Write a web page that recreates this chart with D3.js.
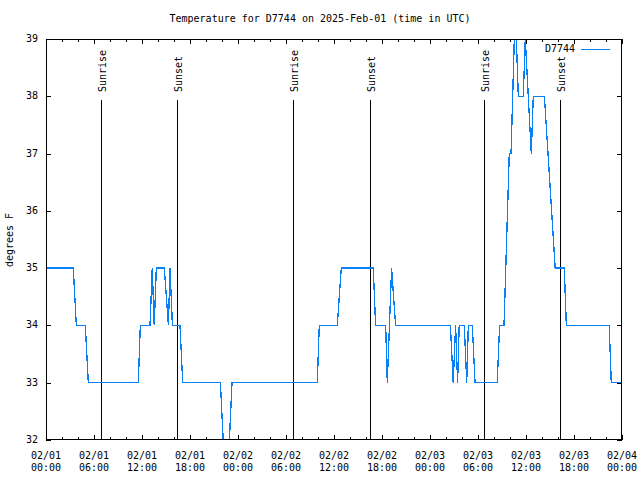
<!DOCTYPE html>
<html><head><meta charset="utf-8">
<script src="https://cdn.jsdelivr.net/npm/d3@7"></script>
<style>body{margin:0;background:#fff}svg{display:block}text{font-family:"DejaVu Sans Mono",monospace;font-size:10px;fill:#000}</style>
</head><body><svg id="c" width="640" height="480"></svg>
<script>
// hours since 2025-02-01 00:00 UTC
const hours = [0,3.41,3.79,4.91,5.29,11.54,11.79,13.0,13.28,13.53,13.79,14.79,15.3,15.5,15.8,16.75,17.09,21.8,22.5,22.6,23.25,33.91,34.16,36.41,36.91,40.91,41.2,42.46,42.66,43.2,43.7,50.55,50.9,51.2,51.45,51.65,52.29,52.59,52.79,53.29,53.63,56.4,56.7,57.25,57.91,58.13,58.54,58.79,59.04,59.66,59.91,60.66,60.91,62.3,63.65,64.79,65.04,70.4,70.66,72];
const temps = [35,35,34,34,33,33,34,34,35,34,35,35,34,35,34,34,33,33,31,31,33,33,34,34,35,35,34,34,33,35,34,34,33,34,33,34,34,33,34,34,33,33,34,34,37,37,39,39,38,38,39,37,38,38,35,35,34,34,33,33];
const sunEvents = ["Sunrise","Sunset","Sunrise","Sunset","Sunrise","Sunset"];
const sunHours = [6.9,16.41,30.9,40.46,54.8,64.3];
const xTickHours = [0,6,12,18,24,30,36,42,48,54,60,66,72];
const xTickDates = ["02/01","02/01","02/01","02/01","02/02","02/02","02/02","02/02","02/03","02/03","02/03","02/03","02/04"];
const xTickTimes = ["00:00","06:00","12:00","18:00","00:00","06:00","12:00","18:00","00:00","06:00","12:00","18:00","00:00"];
const yTicks = [32,33,34,35,36,37,38,39];
const seriesName = "D7744";
const title = "Temperature for D7744 on 2025-Feb-01 (time in UTC)";
const yLabel = "degrees F";

const L=46,R=622,T=39,B=440;
const svg=d3.select("#c");
const x=d3.scaleLinear().domain([0,72]).range([L,R]);
const y=d3.scaleLinear().domain([32,39]).range([B,T]);
const blue="#0a80f5";

svg.append("defs").append("clipPath").attr("id","clip").append("rect")
  .attr("x",L).attr("y",T).attr("width",R-L).attr("height",B-T);

// minor x ticks every 2 hours (bottom & top)
const minor=d3.range(0,73,2);
svg.append("g").selectAll("line").data(minor).join("line")
  .attr("x1",d=>x(d)+0.5).attr("x2",d=>x(d)+0.5)
  .attr("y1",B).attr("y2",d=>B-(d%6===0?5:3)).attr("stroke","#000");
svg.append("g").selectAll("line").data(minor).join("line")
  .attr("x1",d=>x(d)+0.5).attr("x2",d=>x(d)+0.5)
  .attr("y1",T).attr("y2",d=>T+(d%6===0?5:3)).attr("stroke","#000");
// y ticks left & right
svg.append("g").selectAll("line").data(yTicks).join("line")
  .attr("x1",L).attr("x2",L+5).attr("y1",d=>Math.round(y(d))+0.5).attr("y2",d=>Math.round(y(d))+0.5).attr("stroke","#000");
svg.append("g").selectAll("line").data(yTicks).join("line")
  .attr("x1",R-5).attr("x2",R).attr("y1",d=>Math.round(y(d))+0.5).attr("y2",d=>Math.round(y(d))+0.5).attr("stroke","#000");

// tick labels
svg.append("g").selectAll("text").data(yTicks).join("text")
  .attr("x",L-8).attr("y",d=>y(d)).attr("text-anchor","end").attr("dominant-baseline","middle").text(d=>d);
const xl=svg.append("g").selectAll("g").data(xTickHours).join("g");
xl.append("text").attr("x",d=>x(d)).attr("y",459).attr("text-anchor","middle").text((d,i)=>xTickDates[i]);
xl.append("text").attr("x",d=>x(d)).attr("y",471).attr("text-anchor","middle").text((d,i)=>xTickTimes[i]);

// sunrise / sunset markers
sunHours.forEach((h,i)=>{
  const px=Math.round(x(h))+0.5;
  svg.append("line").attr("x1",px).attr("x2",px).attr("y1",100).attr("y2",B).attr("stroke","#000");
  svg.append("text").attr("transform",`translate(${px+1},92) rotate(-90)`)
    .attr("dominant-baseline","middle").text(sunEvents[i]);
});

// data line
const pts=hours.map((h,i)=>[h,temps[i]]);
svg.append("path").datum(pts).attr("clip-path","url(#clip)")
  .attr("d",d3.line().x(d=>x(d[0])).y(d=>y(d[1])))
  .attr("fill","none").attr("stroke",blue).attr("stroke-width",1.3)
  .attr("shape-rendering","crispEdges");

// border
svg.append("rect").attr("x",L+0.5).attr("y",T+0.5).attr("width",R-L-1).attr("height",B-T-1)
  .attr("fill","none").attr("stroke","#000");

// legend
svg.append("text").attr("x",575).attr("y",49).attr("text-anchor","end").attr("dominant-baseline","middle").text(seriesName);
svg.append("line").attr("x1",581).attr("x2",610).attr("y1",49.5).attr("y2",49.5).attr("stroke",blue);

// title & axis label
svg.append("text").attr("x",320).attr("y",22).attr("text-anchor","middle").text(title);
svg.append("text").attr("transform","translate(10,240) rotate(-90)").attr("text-anchor","middle").attr("dominant-baseline","middle").text(yLabel);
</script></body></html>
